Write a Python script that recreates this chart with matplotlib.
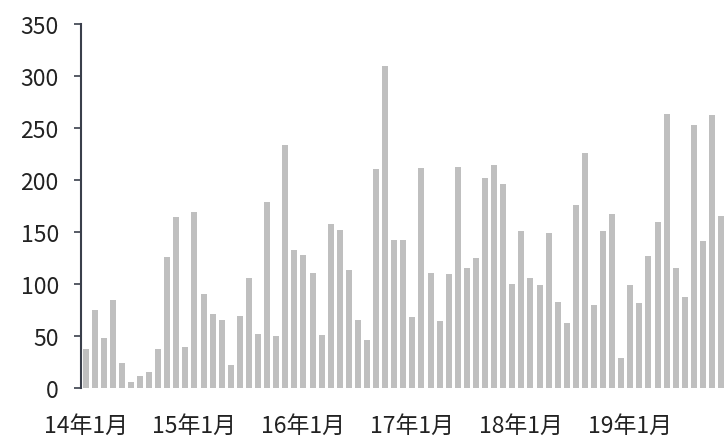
import matplotlib
matplotlib.use('Agg')
import matplotlib.pyplot as plt
import numpy as np

plt.rcParams['font.family'] = ['Noto Sans CJK SC', 'DejaVu Sans']

# monthly values, 14年1月 .. 19年11月
values = [38, 75, 48, 85, 24, 6, 12, 16, 38, 126, 165, 40,
          169, 91, 72, 66, 23, 70, 106, 52, 179, 50, 234, 133,
          128, 111, 51, 158, 152, 114, 66, 47, 211, 310, 143, 143,
          69, 212, 111, 65, 110, 213, 116, 125, 202, 215, 196, 100,
          151, 106, 99, 149, 83, 63, 176, 226, 80, 151, 168, 29,
          99, 82, 127, 160, 264, 116, 88, 253, 142, 263, 166]
tick_labels = ['14年1月', '15年1月', '16年1月', '17年1月', '18年1月', '19年1月']
tick_pos = [0, 12, 24, 36, 48, 60]

fig = plt.figure(figsize=(7.27, 4.39), dpi=100)
ax = fig.add_axes([0.1114, 0.1128, 0.8886, 0.8302])

x = np.arange(len(values))
ax.bar(x, values, width=0.66, color='#bfbfbf')

ax.set_xlim(-0.5, 70.65)
ax.set_ylim(0, 350)
ax.set_yticks(range(0, 351, 50))
ax.set_xticks(tick_pos)
ax.set_xticklabels(tick_labels)

for s in ['top', 'right', 'bottom']:
    ax.spines[s].set_visible(False)
ax.spines['left'].set_color('#3a3f4b')
ax.spines['left'].set_linewidth(1.5)

ax.tick_params(axis='y', length=5, width=1.2, color='#3a3f4b', pad=11,
               labelsize=16.5, labelcolor='#222222')
ax.tick_params(axis='x', length=0, pad=18.5, labelsize=16.5, labelcolor='#222222')

fig.savefig('out.png', dpi=100)
